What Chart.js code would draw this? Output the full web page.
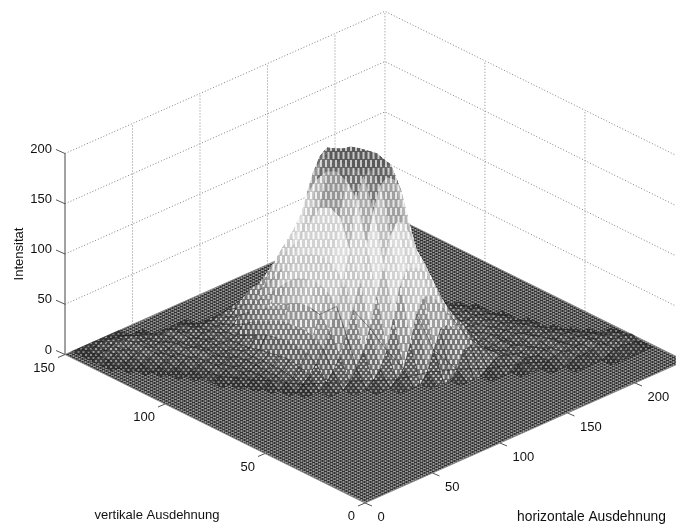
<!DOCTYPE html>
<html lang="en">
<head>
  <meta charset="UTF-8">
  <title>Intensitat</title>
  <script src="https://cdn.jsdelivr.net/npm/chart.js@4"></script>
  <style>
    html, body { margin: 0; padding: 0; background: #fff; }
    canvas { display: block; }
  </style>
</head>
<body>
<canvas id="chart" width="676" height="524"></canvas>
<script>
  // axis ticks
  const xTicks = [0, 50, 100, 150, 200];
  const yTicks = [0, 50, 100, 150];
  const zTicks = [0, 50, 100, 150, 200];
  const xMax = 237;
  const yMax = 150;

  // heights, one row per y, on a 5 unit grid
  const cellSize = 5;
  const rowY = [145, 140, 135, 130, 125, 120, 115, 110, 105, 100, 95, 90, 85, 80, 75, 70, 65, 60, 55, 50, 45, 40, 35, 30, 25, 20];
  const rowStartX = [10, 10, 10, 15, 20, 25, 30, 35, 40, 40, 45, 50, 55, 60, 65, 75, 85, 95, 105, 120, 135, 150, 165, 180, 190, 210];
  const rowHeights = [
    [2,4,6,5,4,2],
    [3,5,7,9,6,8,5,3],
    [3,6,8,5,9,7,6,8,5,7,4,6,3],
    [3,5,7,9,6,8,5,7,9,6,8,5,7,6,8,10,12,8,3],
    [3,6,8,5,7,9,6,8,5,7,6,8,7,11,17,24,29,28,16,5],
    [3,5,7,6,9,7,5,8,6,9,7,11,18,26,33,41,47,54,40,20,5],
    [3,6,8,5,9,6,8,7,7,8,17,26,34,45,55,67,76,80,82,60,25,5],
    [3,5,6,8,5,7,6,8,14,24,33,45,59,74,87,97,102,103,102,97,80,40,12],
    [3,7,5,8,6,9,9,19,29,41,55,74,91,103,123,142,147,142,123,103,91,60,20],
    [4,6,7,5,8,8,12,24,34,47,67,87,103,145,165,178,183,178,165,145,103,87,67,47,20],
    [4,6,5,8,9,14,26,39,54,76,97,125,165,185,187,187,184,183,165,125,97,76,54,39,26,14],
    [4,6,7,9,16,28,40,59,80,102,145,178,186,186,185,186,186,178,145,102,80,59,40,28,16,9,6],
    [5,7,9,17,28,41,60,82,103,150,183,188,185,184,185,188,183,150,103,82,60,41,28,17,10,7,5],
    [5,7,15,26,39,58,78,100,145,178,188,186,185,186,188,178,145,102,80,59,40,28,16,9,7,5,4],
    [5,11,20,32,46,68,90,116,165,185,188,188,187,185,165,123,97,76,54,39,26,14,9,6,7,5,4],
    [6,14,26,44,66,90,122,155,178,183,178,165,135,103,87,67,47,34,24,12,8,6,7,5,3],
    [6,16,30,50,78,106,132,143,140,123,103,91,74,55,41,29,19,9,8,6,8,5,6,3],
    [6,14,30,58,88,102,100,96,87,74,59,45,33,24,14,8,6,9,5,7,4,3],
    [6,14,36,62,76,74,66,55,45,34,26,17,8,7,9,5,7,6,8,4,3],
    [9,28,46,47,41,33,26,18,11,7,6,8,5,9,6,4,7,3],
    [8,24,26,22,17,12,9,6,8,5,7,9,5,6,4,3],
    [5,10,12,9,7,6,9,5,7,8,4,6,5,3],
    [5,8,6,5,8,6,9,5,7,6,4,3],
    [4,6,8,5,7,6,8,5,6,4,3],
    [3,5,4,6,8,5,7,6,5,3],
    [3,5,6,4,3]
  ];

  // dark folds of the surface, as paths over grid nodes (x, y)
  const creasePaths = [
    [[85, 85], [85, 80], [90, 75], [90, 70], [90, 65]],
    [[95, 70], [100, 65], [105, 60], [110, 55]],
    [[120, 55], [125, 50], [135, 45]],
    [[145, 55], [150, 50], [155, 45], [165, 40]],
    [[40, 100], [45, 95], [50, 90], [55, 85], [60, 80], [65, 75], [75, 70], [85, 65], [95, 60], [105, 55], [120, 50], [135, 45], [150, 40], [165, 35], [180, 30]]
  ];

  // grey ramp of the mesh over the height
  const toneHeights = [0, 10, 30, 70, 110, 150, 190];
  const latticeTones = [50, 85, 115, 185, 220, 185, 80];
  const slitTones = [130, 200, 225, 245, 252, 240, 195];

  const heightAt = (x, y) => {
    const r = rowY.indexOf(y);
    if (r < 0) return 0;
    const v = rowHeights[r][(x - rowStartX[r]) / cellSize];
    return v === undefined ? 0 : v;
  };

  // view of the matlab axes box
  const project = (x, y, z) => ({
    x: 365 + 1.35 * x - 2 * y,
    y: 503 - 0.6 * x - 0.99 * y - 1.005 * z
  });

  const toneAt = (z, tones) => {
    let i = 0;
    while (i < toneHeights.length - 2 && z > toneHeights[i + 1]) i++;
    const t = Math.min(1, (z - toneHeights[i]) / (toneHeights[i + 1] - toneHeights[i]));
    return Math.round(tones[i] + (tones[i + 1] - tones[i]) * t);
  };

  const grey = g => 'rgb(' + g + ',' + g + ',' + g + ')';

  const newTile = (w, h) => {
    const c = document.createElement('canvas');
    c.width = w;
    c.height = h;
    return c;
  };

  // the very fine floor mesh comes out as a pixel pattern
  const floorPattern = () => {
    const tile = newTile(6, 3);
    const g = tile.getContext('2d');
    for (let x = 0; x < 6; x++) {
      for (let y = 0; y < 3; y++) {
        const a = (x + 2 * y) % 6 < 3;
        const b = (x + 4 * y) % 6 < 3;
        g.fillStyle = a && b ? '#303030' : (a || b ? '#5c5c5c' : '#949494');
        g.fillRect(x, y, 1, 1);
      }
    }
    return g.createPattern(tile, 'repeat');
  };

  // slits between the mesh lines, longer higher up the slope
  const slitCache = {};
  const slitPattern = mid => {
    const lattice = Math.round(toneAt(mid, latticeTones) / 10) * 10;
    const slit = Math.round(toneAt(mid, slitTones) / 10) * 10;
    const len = mid < 15 ? 2 : (mid < 45 ? 4 : 7);
    const key = lattice + '_' + slit + '_' + len;
    if (slitCache[key]) return slitCache[key];
    const halfH = len + 1;
    const tile = newTile(5, halfH * 2);
    const g = tile.getContext('2d');
    g.fillStyle = grey(lattice);
    g.fillRect(0, 0, 5, halfH * 2);
    g.fillStyle = grey(slit);
    g.fillRect(0, 0, 2, len);
    g.fillRect(2.5, halfH, 2, len);
    slitCache[key] = g.createPattern(tile, 'repeat');
    return slitCache[key];
  };

  const lineSet = (data, color, width, dash) => ({
    data: data,
    showLine: true,
    fill: false,
    borderColor: color,
    borderWidth: width,
    borderDash: dash || [],
    pointRadius: 0,
    tension: 0
  });

  const drawList = [];

  // dotted walls
  const gridDash = [1, 2];
  zTicks.slice(1).forEach(z => {
    drawList.push(lineSet([project(0, yMax, z), project(xMax, yMax, z), project(xMax, 0, z)], '#808080', 1, gridDash));
  });
  xTicks.slice(1).forEach(x => {
    drawList.push(lineSet([project(x, yMax, 0), project(x, yMax, 200)], '#888', 1, gridDash));
  });
  yTicks.slice(1, 3).forEach(y => {
    drawList.push(lineSet([project(xMax, y, 0), project(xMax, y, 200)], '#888', 1, gridDash));
  });
  drawList.push(lineSet([project(xMax, yMax, 0), project(xMax, yMax, 200)], '#888', 1, gridDash));

  // z axis
  drawList.push(lineSet([project(0, yMax, 0), project(0, yMax, 200)], '#444', 1));

  // flat part of the mesh
  drawList.push({
    data: [project(0, 0, 0), project(xMax, 0, 0), project(xMax, yMax, 0), project(0, yMax, 0), project(0, 0, 0)],
    showLine: true,
    fill: 'shape',
    backgroundColor: floorPattern(),
    borderColor: '#8a8a8a',
    borderWidth: 1,
    pointRadius: 0
  });

  // mound, back cells first
  for (let y = yMax - cellSize; y >= 15; y -= cellSize) {
    for (let x = 235 - cellSize; x >= 5; x -= cellSize) {
      const a = heightAt(x, y), b = heightAt(x + cellSize, y);
      const c = heightAt(x + cellSize, y + cellSize), d = heightAt(x, y + cellSize);
      if (a + b + c + d === 0) continue;
      const mid = (a + b + c + d) / 4;
      const p = project(x, y, a);
      const fillStyle = slitPattern(mid);
      drawList.push({
        data: [p, project(x + cellSize, y, b), project(x + cellSize, y + cellSize, c), project(x, y + cellSize, d), p],
        showLine: true,
        fill: 'shape',
        backgroundColor: fillStyle,
        borderColor: mid < 20 ? 'rgba(15,15,15,0.5)' : fillStyle,
        borderWidth: mid < 20 ? 0.6 : 1,
        pointRadius: 0
      });
    }
  }

  creasePaths.forEach(path => {
    drawList.push(lineSet(path.map(n => project(n[0], n[1], heightAt(n[0], n[1]))), 'rgba(20,20,20,0.45)', 0.9));
  });

  // first dataset ends up on top in chart.js
  drawList.reverse();

  const axisTexts = {
    id: 'axisTexts',
    afterDatasetsDraw(chart) {
      const { ctx, scales } = chart;
      const px = p => ({ x: scales.x.getPixelForValue(p.x), y: scales.y.getPixelForValue(p.y) });
      const mark = (from, dx, dy) => {
        const s = px(from);
        ctx.beginPath();
        ctx.moveTo(s.x, s.y);
        ctx.lineTo(s.x + dx, s.y + dy);
        ctx.stroke();
      };
      const label = (text, from, dx, dy, align) => {
        const s = px(from);
        ctx.textAlign = align || 'center';
        ctx.fillText(String(text), s.x + dx, s.y + dy);
      };
      ctx.save();
      ctx.font = '13px "Liberation Sans", Arial, sans-serif';
      ctx.fillStyle = '#111';
      ctx.strokeStyle = '#555';
      ctx.lineWidth = 1;
      ctx.textBaseline = 'middle';
      zTicks.forEach(z => {
        mark(project(0, yMax, z), -9, -4);
        label(z, project(0, yMax, z), -13, -4.5, 'right');
      });
      yTicks.forEach(y => {
        mark(project(0, y, 0), -7, 3);
        label(y, project(0, y, 0), -10, 13.5, 'right');
      });
      xTicks.forEach(x => {
        mark(project(x, 0, 0), 7, 3);
        label(x, project(x, 0, 0), 12.5, 14, 'left');
      });
      label('vertikale Ausdehnung', project(0, 0, 0), -208, 12);
      ctx.save();
      ctx.font = '13.8px "Liberation Sans", Arial, sans-serif';
      label('horizontale Ausdehnung', project(0, 0, 0), 226.5, 14.5);
      ctx.restore();
      ctx.translate(19, 254);
      ctx.rotate(-Math.PI / 2);
      ctx.textAlign = 'center';
      ctx.fillText('Intensitat', 0, 0);
      ctx.restore();
    }
  };

  new Chart(document.getElementById('chart'), {
    type: 'scatter',
    data: { datasets: drawList },
    options: {
      responsive: false,
      animation: false,
      events: [],
      layout: { padding: 0 },
      plugins: { legend: { display: false }, tooltip: { enabled: false } },
      scales: {
        x: { type: 'linear', min: 0, max: 676, display: false },
        y: { type: 'linear', min: 0, max: 524, reverse: true, display: false }
      }
    },
    plugins: [axisTexts]
  });
</script>
</body>
</html>
